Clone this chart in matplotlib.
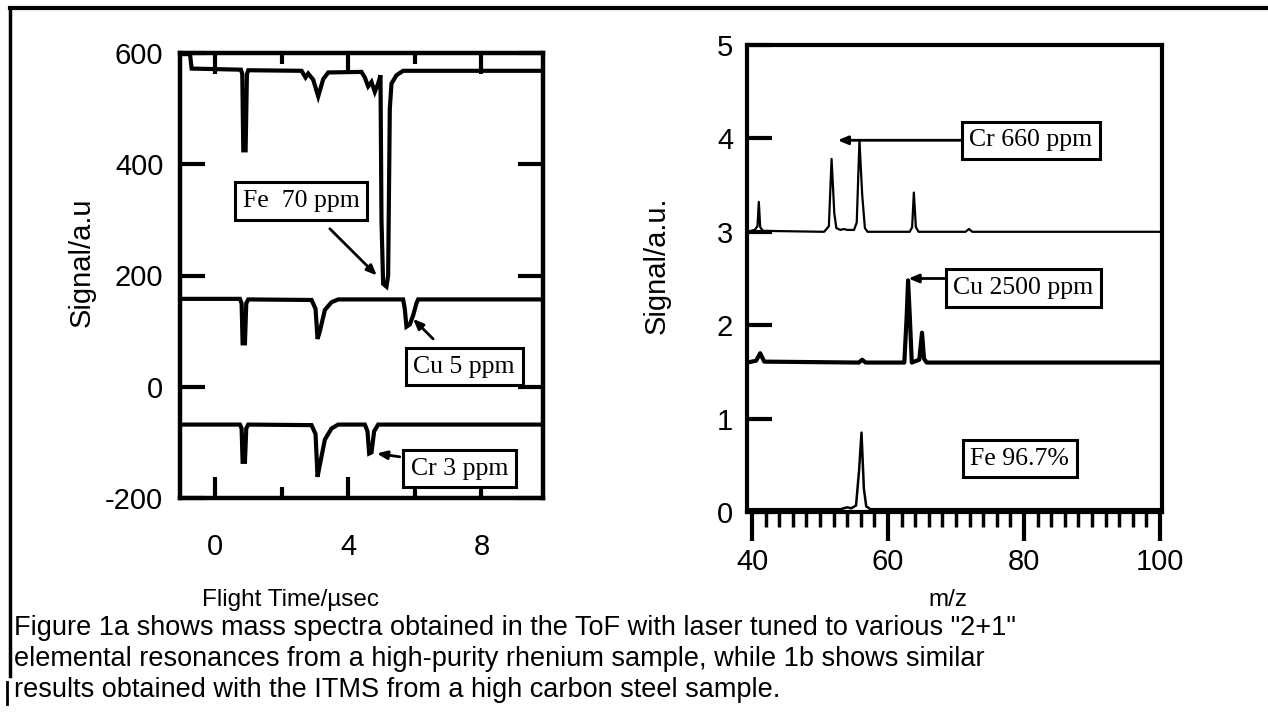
import matplotlib
matplotlib.use("Agg")
import matplotlib.pyplot as plt
from matplotlib.lines import Line2D
from matplotlib.ticker import MultipleLocator

# ---------------- data ----------------
# Figure 1a : ToF spectra (flight time in usec, signal in a.u.)
fe_tof_t = [-1.05, -0.75, -0.7, 0.78, 0.82, 0.85, 0.92, 0.96, 1.0, 2.6, 2.72, 2.8, 2.95, 3.1, 3.25, 3.4,
            4.4, 4.5, 4.6, 4.7, 4.8, 4.9, 4.97, 5.0, 5.05, 5.15, 5.2, 5.25, 5.3, 5.45, 5.65, 9.85]
fe_tof_v = [598, 598, 572, 570, 562, 425, 425, 562, 569, 568, 556, 563, 552, 522, 553, 565,
            566, 556, 540, 548, 530, 545, 560, 300, 185, 180, 200, 500, 545, 560, 568, 568]

cu_tof_t = [-1.05, 0.75, 0.8, 0.83, 0.9, 0.94, 1.0, 2.9, 3.02, 3.08, 3.15, 3.3, 3.5, 3.7,
            5.65, 5.7, 5.75, 5.85, 5.95, 6.05, 6.1, 9.85]
cu_tof_v = [158, 158, 150, 78, 78, 150, 157, 156, 140, 86, 100, 138, 152, 157,
            157, 140, 108, 112, 128, 150, 157, 157]

cr_tof_t = [-1.05, 0.75, 0.8, 0.83, 0.9, 0.94, 1.0, 2.9, 3.02, 3.08, 3.15, 3.3, 3.5, 3.7,
            4.5, 4.58, 4.63, 4.7, 4.78, 4.9, 9.85]
cr_tof_v = [-68, -68, -75, -135, -135, -75, -68, -69, -85, -162, -140, -95, -75, -68,
            -68, -80, -120, -118, -80, -68, -68]

# Figure 1b : ITMS spectra (m/z, signal in a.u.)
cr_ms_mz = [39.3, 40.4, 40.8, 41.0, 41.2, 41.6, 50.6, 51.3, 51.7, 52.1, 52.4, 53.0, 53.5, 54.0, 55.0,
            55.4, 55.8, 56.2, 56.6, 57.0, 63.2, 63.55, 63.8, 64.1, 64.5, 71.4, 71.9, 72.4, 99.9]
cr_ms_v = [3.0, 3.02, 3.06, 3.32, 3.05, 3.01, 3.0, 3.06, 3.78, 3.2, 3.04, 3.02, 3.03, 3.02, 3.02,
           3.1, 3.98, 3.4, 3.04, 3.0, 3.0, 3.05, 3.42, 3.05, 3.0, 3.0, 3.03, 3.0, 3.0]

cu_ms_mz = [39.3, 40.6, 41.2, 41.8, 55.7, 56.2, 56.7, 62.4, 62.75, 62.95, 63.2, 63.5, 64.6, 65.0,
            65.3, 65.7, 100.3]
cu_ms_v = [1.6, 1.62, 1.7, 1.61, 1.6, 1.63, 1.6, 1.6, 2.1, 2.48, 2.1, 1.6, 1.63, 1.92,
           1.64, 1.6, 1.6]

fe_ms_mz = [39.3, 53.0, 54.0, 54.6, 55.3, 55.75, 56.1, 56.45, 56.8, 57.4, 100.3]
fe_ms_v = [0.03, 0.03, 0.05, 0.04, 0.07, 0.45, 0.85, 0.25, 0.06, 0.03, 0.03]

left_yticks = [-200, 0, 200, 400, 600]
left_xticks = [0, 4, 8]
left_xminor = [2, 6]
right_xticks = [40, 60, 80, 100]
right_yticks = [0, 1, 2, 3, 4, 5]

caption = ['Figure 1a shows mass spectra obtained in the ToF with laser tuned to various "2+1"',
           'elemental resonances from a high-purity rhenium sample, while 1b shows similar',
           'results obtained with the ITMS from a high carbon steel sample.']

# ---------------- layout ----------------
W, H = 1268, 720
SANS = ["Liberation Sans", "DejaVu Sans"]
SERIF = ["Liberation Serif", "DejaVu Serif"]
plt.rcParams["font.family"] = SANS

fig = plt.figure(figsize=(W / 100, H / 100), dpi=100)


def fx(px):
    return px / W


def fy(py):
    return 1 - py / H


axL = fig.add_axes([fx(180), fy(498), (543 - 180) / W, (498 - 53) / H])
axR = fig.add_axes([fx(747), fy(512), (1162 - 747) / W, (512 - 45) / H])

# ---------------- left panel ----------------
axL.plot(fe_tof_t, fe_tof_v, color="black", lw=3.0, solid_joinstyle="miter")
axL.plot(cu_tof_t, cu_tof_v, color="black", lw=3.0, solid_joinstyle="miter")
axL.plot(cr_tof_t, cr_tof_v, color="black", lw=3.0, solid_joinstyle="miter")
axL.set_xlim(-1.05, 9.85)
axL.set_ylim(-200, 600)
axL.set_xticks(left_xticks)
axL.set_xticks(left_xminor, minor=True)
axL.set_yticks(left_yticks)
axL.set_yticklabels([str(v) for v in left_yticks])
axL.tick_params(which="both", direction="in", top=True, right=True, width=3, colors="black")
axL.tick_params(axis="y", which="major", length=18, pad=12, labelsize=21)
axL.tick_params(axis="x", which="major", length=15, pad=25, labelsize=21)
axL.tick_params(axis="x", which="minor", length=8)
for s in axL.spines.values():
    s.set_linewidth(3.2)

box = dict(boxstyle="square,pad=0.3", fc="white", ec="black", lw=2.2)
arr = dict(arrowstyle="-|>,head_length=0.6,head_width=0.25", color="black", lw=2.0,
           shrinkA=0, shrinkB=0)

axL.text(2.58, 334, "Fe  70 ppm", family=SERIF, fontsize=18.5, ha="center", va="center", bbox=box)
axL.annotate("", xy=(4.86, 200), xytext=(3.45, 284), arrowprops=arr)
axL.text(7.48, 36, "Cu 5 ppm", family=SERIF, fontsize=18.5, ha="center", va="center", bbox=box)
axL.annotate("", xy=(5.95, 122), xytext=(6.55, 86), arrowprops=arr)
axL.text(7.35, -147, "Cr 3 ppm", family=SERIF, fontsize=18.5, ha="center", va="center", bbox=box)
axL.annotate("", xy=(4.86, -120), xytext=(5.55, -126), arrowprops=arr)

# ---------------- right panel ----------------
axR.plot(cr_ms_mz, cr_ms_v, color="black", lw=1.6)
axR.plot(cu_ms_mz, cu_ms_v, color="black", lw=3.0)
axR.plot(fe_ms_mz, fe_ms_v, color="black", lw=1.8)
axR.set_xlim(39.26, 100.3)
axR.set_ylim(0, 5)
axR.set_xticks(right_xticks)
axR.xaxis.set_minor_locator(MultipleLocator(2))
axR.set_yticks(right_yticks)
axR.tick_params(axis="x", which="major", direction="out", length=21, width=3, pad=5, labelsize=21)
axR.tick_params(axis="x", which="minor", direction="out", length=11, width=2.5)
axR.tick_params(axis="y", which="major", direction="in", length=18, width=3, pad=10, labelsize=21)
for s in axR.spines.values():
    s.set_linewidth(3.0)

axR.text(81.0, 3.98, "Cr 660 ppm", family=SERIF, fontsize=18.5, ha="center", va="center", bbox=box)
axR.annotate("", xy=(52.6, 3.98), xytext=(70.9, 3.98), arrowprops=arr)
axR.text(79.9, 2.40, "Cu 2500 ppm", family=SERIF, fontsize=18.5, ha="center", va="center", bbox=box)
axR.annotate("", xy=(63.0, 2.5), xytext=(68.4, 2.5), arrowprops=arr)
axR.text(79.4, 0.57, "Fe 96.7%", family=SERIF, fontsize=18.5, ha="center", va="center", bbox=box)

# ---------------- axis labels ----------------
fig.text(fx(82), fy(262), "Signal/a.u", rotation=90, ha="center", va="center", fontsize=21)
fig.text(fx(657), fy(265), "Signal/a.u.", rotation=90, ha="center", va="center", fontsize=21)
fig.text(fx(291), fy(600), "Flight Time/\u00b5sec", ha="center", va="center", fontsize=17.5)
fig.text(fx(948), fy(600), "m/z", ha="center", va="center", fontsize=17.5)

# ---------------- caption ----------------
for i, line in enumerate(caption):
    fig.text(fx(14), fy(628 + 31 * i), line, ha="left", va="center", fontsize=19.5)

# ---------------- page border ----------------
fig.add_artist(Line2D([fx(10), fx(1268)], [fy(8), fy(8)], color="black", lw=3))
fig.add_artist(Line2D([fx(10), fx(10)], [fy(8), fy(676)], color="black", lw=2.5))
fig.add_artist(Line2D([fx(7), fx(7)], [fy(682), fy(704)], color="black", lw=2))

fig.savefig("out.png", dpi=100)
